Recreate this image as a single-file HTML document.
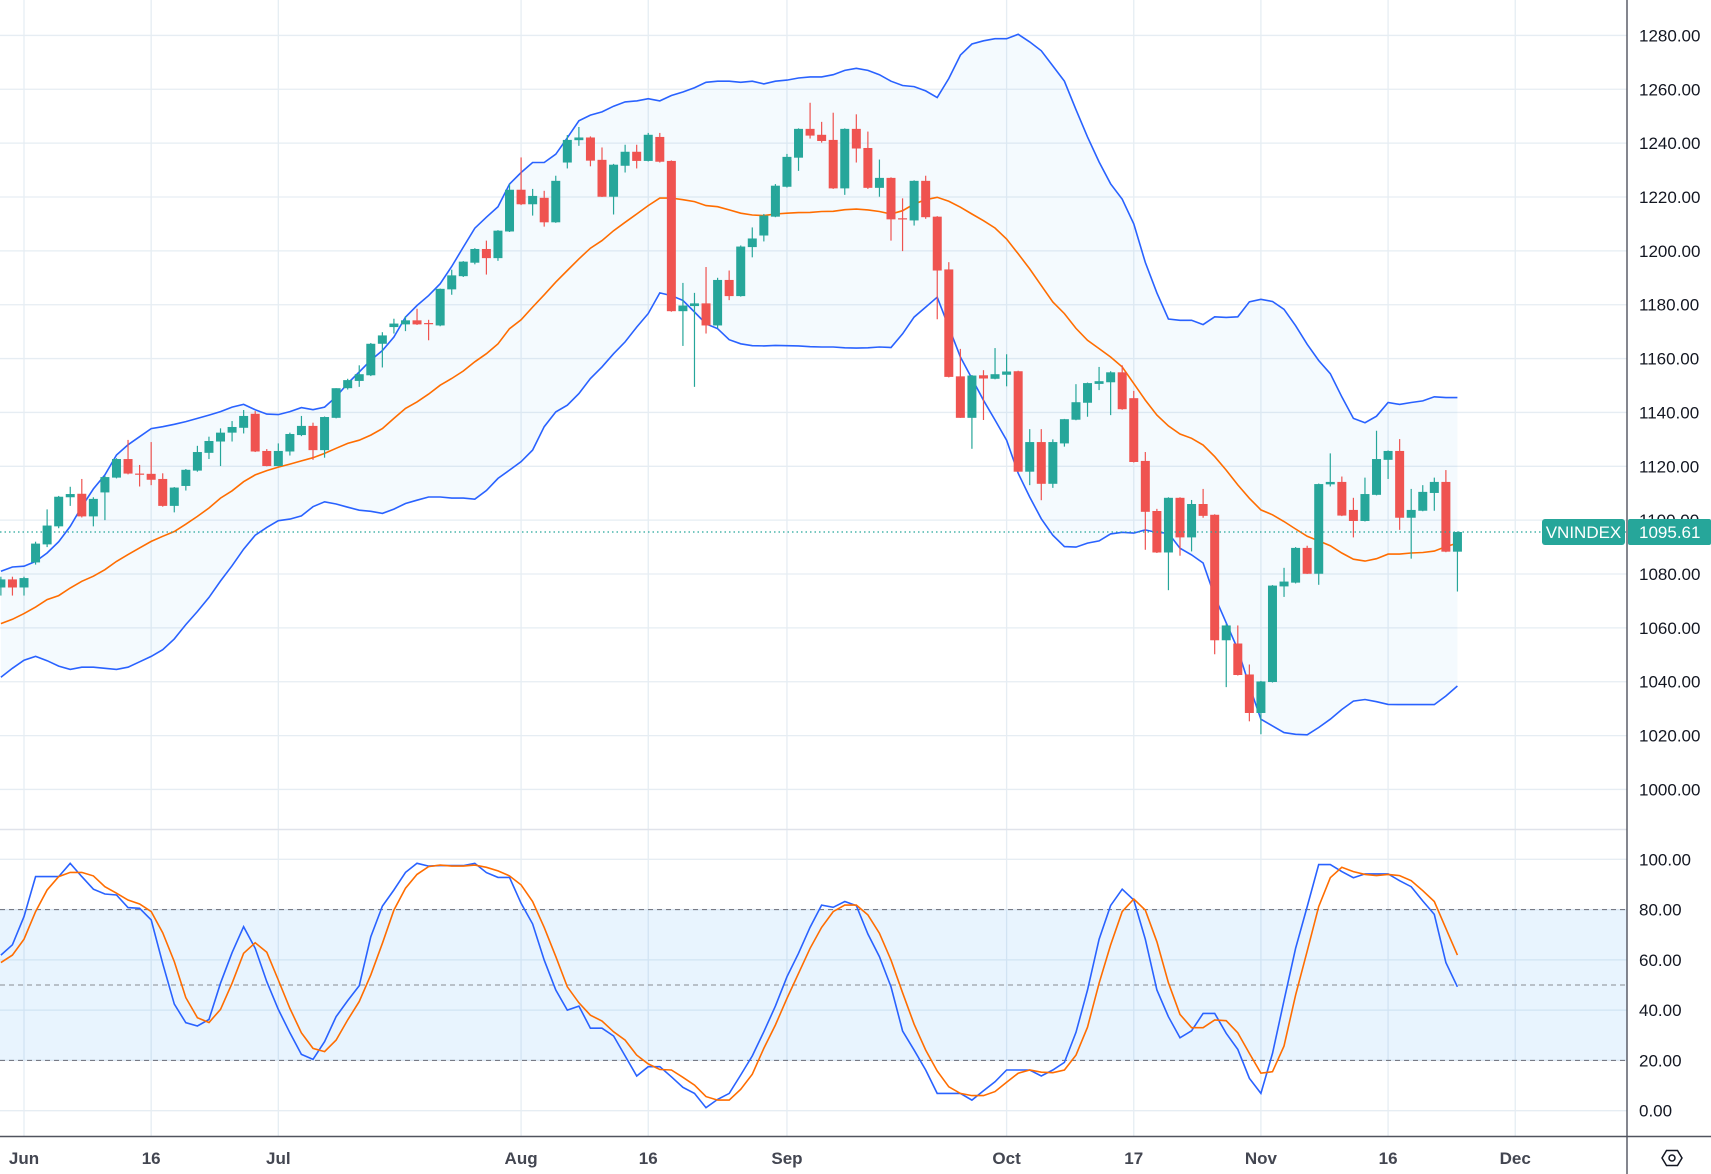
<!DOCTYPE html>
<html><head><meta charset="utf-8">
<style>
html,body{margin:0;padding:0;background:#fff;}
svg{display:block;font-family:"Liberation Sans",sans-serif;}
</style></head>
<body>
<svg id="chart" width="1711" height="1174" viewBox="0 0 1711 1174" xmlns="http://www.w3.org/2000/svg">
<defs>
<clipPath id="mainClip"><rect x="0" y="0" width="1627" height="829"/></clipPath>
<clipPath id="oscClip"><rect x="0" y="830" width="1627" height="306"/></clipPath>
</defs>
<rect x="0" y="0" width="1711" height="1174" fill="#fff"/>
<g id="grid"></g>
<g id="main" clip-path="url(#mainClip)"></g>
<g id="osc" clip-path="url(#oscClip)"></g>
<g id="axes"></g>
</svg>
<script>
// ---------- DATA ----------
const firstIndex = -2; // first bar is two sessions before 1 Jun
const opens = [1075,1078,1075,1084.3,1091,1097.7,1108.5,1109.8,1101.4,1110.3,1115.8,1122.7,1117.3,1117.2,1115.3,1105.3,1112.7,1118.4,1125,1129.2,1132.5,1134.3,1139.5,1125.7,1120.1,1125.5,1131.6,1135,1126,1138,1149,1151.7,1153.8,1165.5,1171.7,1172.7,1174.2,1173.2,1172.3,1185.7,1190.6,1195.6,1200.7,1197.3,1207.2,1222.7,1217.3,1219.7,1210.6,1232.8,1241.1,1242.1,1233.8,1220.1,1231.6,1236.8,1233.4,1242.3,1233.4,1177.6,1179.5,1180.5,1172.3,1189.2,1183.2,1201.4,1205.7,1212.7,1223.8,1234.6,1245.3,1243.1,1241.2,1223.2,1245.3,1238.2,1223.4,1227.1,1212.1,1211.3,1226,1212.7,1193.1,1153.4,1138,1153.8,1152.5,1154,1155.3,1118,1129,1113.5,1128.5,1137.3,1143.6,1150.6,1151.2,1154.9,1145.3,1122,1103.4,1088,1108.3,1093.6,1106,1102,1055.4,1054.2,1042.7,1028.4,1039.9,1075.4,1076.8,1089.7,1080.1,1113.3,1114.2,1103.8,1099.7,1109.4,1122.4,1125.7,1100.9,1103.5,1110.1,1114.2,1088.3];
const highs = [1079,1079,1079,1092,1104,1109,1112.4,1115.3,1108.5,1116.5,1123,1129.8,1120.5,1129,1117.4,1112.3,1119,1127.6,1131,1134.1,1136.8,1140.9,1140.5,1126.4,1128.5,1132.5,1138.7,1136.2,1138.5,1149,1152.5,1157.5,1165.8,1169.8,1174.8,1175.7,1178.5,1174.4,1186,1193,1196.2,1201,1203.8,1207.7,1224.8,1234.7,1223,1222.3,1227.9,1243,1246,1242.5,1238.4,1232.3,1239.4,1239.4,1243.8,1243.8,1233.6,1188.1,1184.4,1194,1190,1192.7,1202,1208.7,1213.7,1224.8,1236,1245.5,1255,1247.9,1251.3,1245.5,1250.7,1244.3,1233.9,1227.3,1219.5,1226.2,1227.9,1212.9,1195.8,1163.6,1153.9,1155.7,1163.9,1161.6,1155.5,1133.8,1133.8,1130,1137.6,1150.5,1151.1,1156.9,1155.3,1157.5,1148,1125.3,1104.2,1108.5,1108.5,1107.5,1111.6,1102.2,1061.5,1060.9,1046.4,1040.3,1075.9,1082.3,1090,1090.5,1113.6,1124.8,1116.2,1108.3,1115.8,1133.2,1125.9,1130.1,1111.6,1113,1115.8,1118.6,1095.8];
const lows = [1072,1072,1072,1083.5,1090,1097,1105.3,1101,1097.7,1100,1115.5,1117,1112.5,1113,1105,1102.9,1111,1118,1122.7,1120.1,1129.2,1132.2,1125.3,1120,1120,1124,1131.2,1122.4,1123.2,1137.8,1148.5,1149.5,1153.5,1156.7,1169.3,1170.2,1172.5,1166.8,1172,1183.7,1190.3,1195,1191.2,1196.3,1207,1217,1213.1,1209,1210.4,1230.6,1239,1231.4,1220,1213.5,1229.1,1230.6,1233.2,1232.8,1177.4,1164.7,1149.5,1169.3,1171.3,1181.7,1183,1197.6,1203.5,1212.5,1223.5,1229.7,1241.7,1240.2,1223,1220.8,1232.8,1223,1220.1,1203.8,1199.9,1209.4,1211.9,1174.6,1153,1138,1126.5,1137.2,1152.3,1149.7,1118,1113,1107.4,1112,1127.3,1137.1,1138.4,1148.3,1139,1141,1121.4,1089,1087.8,1074,1086.8,1088.4,1100.9,1050.2,1038,1042.3,1025.3,1020.5,1039.7,1071.5,1076.5,1080,1076,1112.5,1101.5,1093.6,1099.5,1109.2,1115.3,1096.4,1085.7,1103.3,1103.5,1088.1,1073.5];
const closes = [1078,1075,1078.5,1091.3,1098,1108.7,1109.7,1101.4,1107.9,1116,1122.7,1117.3,1117,1115,1105.3,1112.1,1118.7,1125.3,1129.4,1132.5,1134.6,1138.7,1125.5,1120.1,1125.7,1132,1135,1126,1138.3,1149,1152,1154.2,1165.5,1168.6,1173,1174.2,1172.7,1172.8,1185.9,1190.9,1196,1200.7,1197.3,1207.5,1222.7,1217.3,1220.4,1210.6,1226,1241.2,1242.1,1233.5,1220.1,1232,1236.8,1233.4,1243.1,1233.1,1177.6,1179.7,1180.5,1172.3,1189.2,1183.2,1201.6,1204.6,1213.1,1224.2,1234.9,1245.3,1242.8,1240.8,1223.2,1245.3,1238,1223.4,1227.1,1211.7,1211.7,1226,1212.5,1192.7,1153.2,1138,1153.7,1152.6,1154.2,1155.2,1118,1129,1113.5,1129,1137.5,1143.8,1150.9,1151.6,1154.9,1141.2,1121.6,1103.1,1088,1108.3,1093.6,1106,1101.6,1055.4,1060.9,1042.5,1028.4,1040.1,1075.7,1077.2,1089.7,1080.1,1113.4,1114.2,1101.7,1099.7,1109.7,1122.7,1125.7,1100.9,1103.8,1110.5,1114.2,1088.3,1095.6];
const bbUpper = [1081,1082.6,1082.9,1084.7,1087.8,1092,1097.7,1105,1111.6,1116.8,1124.2,1128,1131,1134,1134.7,1135.6,1136.6,1137.8,1139,1140.3,1142,1143,1141,1139.4,1139.2,1140.3,1141.8,1141,1142,1145.8,1150.8,1155,1159.4,1163,1168,1175.4,1179.7,1183.4,1187.8,1194.2,1201.4,1208.4,1212.5,1216.4,1224.8,1229.1,1232.8,1232.8,1235.9,1242,1248.3,1250.4,1251.6,1253.7,1255.3,1255.7,1256.5,1255.7,1257.7,1259,1260.6,1262.6,1263,1263,1262.6,1263,1262,1263,1263.4,1264.2,1264.6,1264.6,1265.4,1267,1267.8,1267,1265.4,1263,1261.4,1261,1259.4,1256.9,1264,1272.7,1276.8,1278,1278.8,1278.8,1280.4,1277.6,1274.3,1268.7,1263,1252.4,1242.3,1233,1224.9,1219.2,1210,1195.7,1184.4,1174.7,1174.2,1174.2,1172.6,1175.5,1175.3,1175.5,1181.1,1182,1181.2,1178.3,1172.2,1165.3,1159.3,1154.4,1145.8,1137.8,1136.2,1138.6,1143.7,1143,1143.7,1144.3,1145.8,1145.5,1145.5];
const bbMiddle = [1061.6,1063.2,1065.3,1067.7,1070.5,1072,1074.8,1077.3,1079.2,1081.6,1084.7,1087.2,1089.7,1092.1,1094,1095.8,1098.5,1101.4,1104.5,1108.2,1110.9,1114.3,1116.8,1118.4,1119.7,1120.8,1122,1123.2,1124.8,1126.7,1128.5,1129.7,1131.6,1134,1137.8,1141.5,1143.9,1146.8,1150.1,1152.6,1155.4,1158.8,1161.8,1165.5,1171.1,1174.4,1179.1,1183.7,1188.4,1192.7,1197,1201,1203.8,1207.5,1210.6,1213.7,1216.8,1219.6,1219.6,1219,1218.3,1216.8,1216.4,1215.2,1214,1213.3,1213.1,1213.7,1214,1214.2,1214.3,1214.6,1214.7,1215.3,1215.5,1215.2,1214.6,1213.7,1214.9,1217.4,1219,1219.9,1218.4,1216.2,1213.7,1211.2,1208.5,1204.4,1198.9,1193.3,1187.1,1181,1176.7,1171.2,1166.8,1163.7,1160.6,1156.9,1150.7,1144.6,1139,1135,1132,1130.4,1127.9,1123.6,1118.6,1113.1,1108.1,1103.8,1102,1099.5,1096.7,1094,1092.3,1090.5,1087.8,1085.5,1084.8,1085.7,1087.4,1087.4,1087.8,1088,1088.5,1090.2,1091.5];
const bbLower = [1041.7,1045,1048,1049.4,1047.8,1045.8,1044.6,1045.4,1045.4,1045,1044.6,1045.4,1047.4,1049.4,1051.9,1055.9,1061.2,1066.1,1071.3,1077.4,1083.1,1089.2,1094.4,1097.3,1099.8,1100.4,1101.6,1105,1106.8,1106,1104.8,1103.7,1103.3,1102.5,1104.1,1106.2,1107.4,1108.6,1108.6,1108.2,1108.2,1107.8,1111,1115.5,1118.6,1121.7,1126,1134.7,1140.2,1142.7,1147,1152.6,1156.9,1161.8,1166.2,1171.7,1176.7,1184.4,1183.4,1181.6,1177.3,1172.9,1171.1,1167,1165.5,1164.8,1164.7,1164.9,1164.8,1164.7,1164.4,1164.3,1164.3,1164,1163.9,1164,1164.3,1164.1,1169.2,1175.4,1179.1,1182.8,1171.7,1160.6,1152.6,1144.5,1137.2,1129.7,1117.4,1108.6,1100.5,1094.4,1090.2,1090,1091.5,1092.3,1094.9,1095.5,1095.2,1096.4,1095.4,1095.2,1089.6,1087.1,1084.1,1071.7,1061.9,1052,1038.4,1026.1,1023.6,1021.1,1020.5,1020.3,1023,1026.1,1029.7,1032.8,1033.4,1032.6,1031.6,1031.5,1031.5,1031.5,1031.5,1034.7,1038.4];
const stochK = [61.9,66,77.2,93.1,93.1,93.1,98.4,93.1,88.1,86.2,85.8,80.8,80.5,75.9,58.6,42.4,35,33.7,36.3,50.7,62.9,73.2,64.6,51.3,40.3,31,22.4,20.4,27.5,37.4,43.8,49.7,69.2,81.4,87.8,94.8,98.4,97.3,97.5,97.5,97.5,98.4,94.7,92.8,92.8,82.5,74.3,59.9,48,40,41.6,32.8,32.8,29.7,21.8,13.8,17.5,17.5,13.5,9.3,6.9,1.2,4.5,6.9,14.2,21.8,31.4,41.6,53.3,62.6,73,81.8,80.9,83.2,81.6,70.3,61.3,49.3,31.7,24.1,16.2,6.9,6.9,6.9,4.2,7.9,11.5,16.2,16.2,16.2,13.8,16.2,19.2,31.2,48,68.2,81.6,88.1,83.8,68.2,48,37.4,29,31.8,38.7,38.7,30.8,24.4,12.9,6.9,22.8,43.8,64.6,81.2,97.9,97.9,95.1,92.7,94.2,94.2,94.2,91.5,89.1,83.4,78.1,58.9,49.3];
const stochD = [58.9,61.9,68.2,79.2,87.8,93.1,94.8,94.8,93.4,89.1,86.5,83.8,82.2,79.2,70.8,59.3,45,37,35.1,40.3,50.7,62.6,66.8,63,52,40.7,31,24.8,23.5,28.1,36.1,43.4,54,66.6,79.8,88.5,94,97.1,97.7,97.3,97.3,97.7,96.8,95.4,93.4,89.8,83.2,72.9,61.3,49.3,42.9,38,35.7,31.4,28.1,22.1,18.6,16.4,16.2,13.3,10.2,5.6,4.2,4.2,8.5,14.5,24.8,34.1,44.7,54.6,64.6,72.9,79.2,81.8,81.8,77.9,70.6,59.9,46.9,34.4,24.1,15.8,9.5,6.9,6,6,7.6,11.3,14.9,16.2,15.3,15.1,16.2,22.1,33.2,50.7,65.9,79.2,84.2,79.8,67.2,50.9,38.3,33,33,36.1,35.8,31,22.8,14.9,15.5,25.7,46,63.5,81.2,92.7,96.8,95.1,94,93.5,94,93.5,91.5,87.5,83.2,72.5,61.9];
const priceTicks = [1000,1020,1040,1060,1080,1100,1120,1140,1160,1180,1200,1220,1240,1260,1280];
const oscTicks = [0,20,40,60,80,100];
const oscLevels = [20,50,80];
const dateLabels = ["Jun","16","Jul","Aug","16","Sep","Oct","17","Nov","16","Dec"];
const dateBarIndex = [0,11,22,43,54,66,85,96,107,118,129];
const lastPrice = 1095.61;

// ---------- SCALES ----------
const NS = "http://www.w3.org/2000/svg";
const X0 = 24, BAR = 11.56;
function xAt(i){ return X0 + BAR*(i); }
function yP(p){ return 466.3 - (p-1120)*2.693; }
function yO(v){ return 1110.7 - v*2.514; }
function mk(tag, attrs, parent){
  const el = document.createElementNS(NS, tag);
  for (const k in attrs) el.setAttribute(k, attrs[k]);
  parent.appendChild(el);
  return el;
}
const grid = document.getElementById('grid');
const main = document.getElementById('main');
const osc = document.getElementById('osc');
const axes = document.getElementById('axes');
const AX = 1627;

// grid lines
priceTicks.forEach(p=>{
  const l = mk('line',{x1:0,x2:AX,y1:yP(p),y2:yP(p),stroke:'#e6edf3','stroke-width':1.3},grid);
  
  
});
oscTicks.forEach(v=>{
  const l = mk('line',{x1:0,x2:AX,y1:yO(v),y2:yO(v),stroke:'#e6edf3','stroke-width':1.3},grid);
  
  
});
dateBarIndex.forEach(i=>{
  const l = mk('line',{x1:xAt(i),x2:xAt(i),y1:0,y2:1136,stroke:'#e6edf3','stroke-width':1.3},grid);
  
  
});

// Bollinger fill
function pts(arr, yf){ return arr.map((v,k)=>xAt(k+firstIndex).toFixed(1)+','+yf(v).toFixed(1)); }
const fillPts = pts(bbUpper,yP).concat(pts(bbLower,yP).reverse()).join(' ');
const bf = mk('polygon',{points:fillPts,fill:'rgba(33,150,243,0.05)'},main);


const up = mk('polyline',{points:pts(bbUpper,yP).join(' '),fill:'none',stroke:'#2962ff','stroke-width':1.6},main);


const lo = mk('polyline',{points:pts(bbLower,yP).join(' '),fill:'none',stroke:'#2962ff','stroke-width':1.6},main);


const mid = mk('polyline',{points:pts(bbMiddle,yP).join(' '),fill:'none',stroke:'#ff6d00','stroke-width':1.6},main);



// candles
closes.forEach((c,k)=>{
  const i = k+firstIndex, o = opens[k], h = highs[k], l = lows[k];
  const col = c >= o ? '#26a69a' : '#ef5350';
  const x = xAt(i);
  const g = mk('g',{},main);
  
  
  mk('line',{x1:x,x2:x,y1:yP(h),y2:yP(l),stroke:col,'stroke-width':1.2},g);
  const top = yP(Math.max(o,c)), bot = yP(Math.min(o,c));
  mk('rect',{x:x-4.5,y:top,width:9,height:Math.max(1.2,bot-top),fill:col},g);
});

// last price line
const lp = mk('line',{x1:0,x2:AX,y1:yP(lastPrice),y2:yP(lastPrice),stroke:'#26a69a','stroke-width':1.2,'stroke-dasharray':'1.5 3'},main);



// oscillator band
const ob = mk('rect',{x:0,y:yO(80),width:AX,height:yO(20)-yO(80),fill:'rgba(33,150,243,0.1)'},osc);


oscLevels.forEach(v=>{
  const l = mk('line',{x1:0,x2:AX,y1:yO(v),y2:yO(v),stroke:v===50?'#9aa0a8':'#787b86','stroke-width':1.2,'stroke-dasharray':'5 4'},osc);
  
  
});
const kl = mk('polyline',{points:pts(stochK,yO).join(' '),fill:'none',stroke:'#2962ff','stroke-width':1.6},osc);


const dl = mk('polyline',{points:pts(stochD,yO).join(' '),fill:'none',stroke:'#ff6d00','stroke-width':1.6},osc);



// axes frame
const sep = mk('line',{x1:0,x2:AX,y1:829.5,y2:829.5,stroke:'#e0e3eb','stroke-width':1.5},axes);


const va = mk('line',{x1:AX,x2:AX,y1:0,y2:1174,stroke:'#50535e','stroke-width':1.4},axes);


const ha = mk('line',{x1:0,x2:1711,y1:1136.5,y2:1136.5,stroke:'#50535e','stroke-width':1.4},axes);



priceTicks.forEach(p=>{
  const t = mk('text',{x:1639,y:yP(p)+6,'font-size':17,fill:'#131722'},axes);
  t.textContent = p.toFixed(2);
  
  
});
oscTicks.forEach(v=>{
  const t = mk('text',{x:1639,y:yO(v)+6,'font-size':17,fill:'#131722'},axes);
  t.textContent = v.toFixed(2);
  
  
});
dateLabels.forEach((s,k)=>{
  const t = mk('text',{x:xAt(dateBarIndex[k]),y:1164,'font-size':17,fill:'#434651','text-anchor':'middle','font-weight':'bold'},axes);
  t.textContent = s;
  
  
});

// last price tags
const ty = yP(lastPrice);
const tag1 = mk('rect',{x:1542,y:ty-13,width:83,height:26,rx:3,fill:'#26a69a'},axes);


const tt1 = mk('text',{x:1583.5,y:ty+6,'font-size':17,fill:'#fff','text-anchor':'middle'},axes);
tt1.textContent = 'VNINDEX';


const tag2 = mk('rect',{x:1628,y:ty-13,width:83,height:26,rx:2,fill:'#26a69a'},axes);


const tt2 = mk('text',{x:1639,y:ty+6,'font-size':17,fill:'#fff'},axes);
tt2.textContent = lastPrice.toFixed(2);



// settings icon
const gear = mk('g',{},axes);


mk('polygon',{points:'1662,1158 1666.5,1150.5 1677.5,1150.5 1682,1158 1677.5,1165.5 1666.5,1165.5',fill:'none',stroke:'#131722','stroke-width':1.5},gear);
mk('circle',{cx:1672,cy:1158,r:3,fill:'none',stroke:'#131722','stroke-width':1.5},gear);
</script>
</body></html>
